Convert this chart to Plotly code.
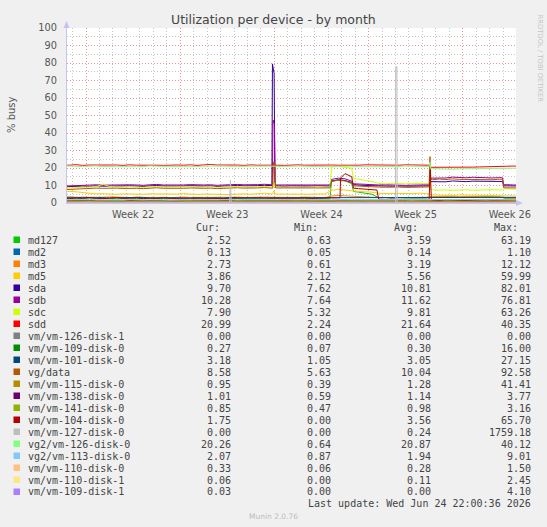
import pandas as pd
import plotly.graph_objects as go

# ─────────────────────────────  TIME BASE  ─────────────────────────────
# one sample every 12 h (06:00 / 18:00), 2026-05-23 06:00 .. 2026-06-26 06:00
N = 69
TIMES = pd.date_range("2026-05-23 06:00", periods=N, freq="12h")
X_RANGE = ["2026-05-23 14:00", "2026-06-25 23:00"]

# ─────────────────────────────  LEGEND TABLE  ──────────────────────────
NAMES = ["md127", "md2", "md3", "md5", "sda", "sdb", "sdc", "sdd",
         "vm/vm-126-disk-1", "vm/vm-109-disk-0", "vm/vm-101-disk-0", "vg/data",
         "vm/vm-115-disk-0", "vm/vm-138-disk-0", "vm/vm-141-disk-0", "vm/vm-104-disk-0",
         "vm/vm-127-disk-0", "vg2/vm-126-disk-0", "vg2/vm-113-disk-0", "vm/vm-110-disk-0",
         "vm/vm-110-disk-1", "vm/vm-109-disk-1"]
COLORS = ["#00CC00", "#0066B3", "#FF8000", "#FFCC00", "#330099", "#990099", "#CCFF00", "#FF0000",
          "#808080", "#008F00", "#00487D", "#B35A00", "#B38F00", "#6B006B", "#8FB300", "#B30000",
          "#BEBEBE", "#80FF80", "#80C9FF", "#FFC080", "#FFE680", "#AA80FF"]
CUR = [2.52, 0.13, 2.73, 3.86, 9.70, 10.28, 7.90, 20.99, 0.00, 0.27, 3.18, 8.58,
       0.95, 1.01, 0.85, 1.75, 0.00, 20.26, 2.07, 0.33, 0.06, 0.03]
MIN = [0.63, 0.05, 0.61, 2.12, 7.62, 7.64, 5.32, 2.24, 0.00, 0.07, 1.05, 5.63,
       0.39, 0.59, 0.47, 0.00, 0.00, 0.64, 0.87, 0.06, 0.00, 0.00]
AVG = [3.59, 0.14, 3.19, 5.56, 10.81, 11.62, 9.81, 21.64, 0.00, 0.30, 3.05, 10.04,
       1.28, 1.14, 0.98, 3.56, 0.24, 20.87, 1.94, 0.28, 0.11, 0.00]
MAX = [63.19, 1.10, 12.12, 59.99, 82.01, 76.81, 63.26, 40.35, 0.00, 16.00, 27.15, 92.58,
       41.41, 3.77, 3.16, 65.70, 1759.18, 40.12, 9.01, 1.50, 2.45, 4.10]

# ─────────────────────────────  SERIES (% busy)  ────────────────────────
md127 = [2.6, 2.4, 2.7, 2.5, 2.8, 2.6, 2.5, 2.7, 2.4, 2.6, 2.8, 2.5, 2.6, 2.7, 2.4, 2.6,
         2.5, 2.8, 2.6, 2.7, 2.5, 2.4, 2.6, 2.7, 2.5, 2.6, 2.8, 2.5, 2.7, 2.6, 2.9, 2.6,
         2.7, 2.5, 2.6, 2.8, 2.6, 2.5, 2.7, 2.6,
         12.2, 13.4, 12.8, 11.0,
         6.2, 5.6, 5.0,
         3.1, 2.9, 3.0, 3.2, 2.8, 3.0, 3.1, 2.9,
         3.6, 3.4, 3.7, 3.5, 3.3, 3.6, 3.4, 3.5, 3.7, 3.4, 3.5,
         2.5, 2.5, 2.5]
md2 = [0.15, 0.12, 0.14, 0.13, 0.16, 0.14, 0.12, 0.15, 0.13, 0.14, 0.16, 0.12, 0.14, 0.15, 0.13, 0.14,
       0.12, 0.15, 0.14, 0.13, 0.16, 0.14, 0.12, 0.15, 0.13, 0.14, 0.15, 0.12, 0.14, 0.13, 0.15, 0.14,
       0.13, 0.15, 0.14, 0.12, 0.14, 0.15, 0.13, 0.14,
       0.16, 0.15, 0.14, 0.13,
       0.14, 0.12, 0.15,
       0.13, 0.14, 0.15, 0.12, 0.14, 0.13, 0.15, 0.14,
       0.14, 0.13, 0.15, 0.14, 0.12, 0.14, 0.15, 0.13, 0.14, 0.15, 0.13,
       0.13, 0.13, 0.13]
md3 = [3.4, 3.6, 3.3, 3.2, 3.4, 3.1, 3.3, 3.5, 3.2, 3.3, 3.1, 3.4, 3.2, 3.3, 3.5, 3.2,
       3.1, 3.3, 3.4, 3.2, 3.3, 3.1, 3.2, 3.4, 3.3, 3.2, 3.4, 3.1, 3.3, 3.2, 3.4, 3.3,
       3.2, 3.3, 3.1, 3.2, 3.4, 3.3, 3.2, 3.1,
       4.0, 4.3, 4.1, 3.8,
       3.5, 3.4, 3.3,
       3.2, 3.1, 3.3, 3.2, 3.0, 3.2, 3.1, 3.3,
       3.6, 3.8, 3.7, 3.9, 3.6, 3.7, 3.8, 3.6, 3.7, 3.9, 3.7,
       2.8, 2.7, 2.7]
md5 = [6.2, 6.6, 6.4, 5.9, 5.4, 5.2, 5.3, 5.1, 5.0, 5.2, 5.1, 4.9, 5.0, 5.2, 5.1, 4.9,
       5.0, 5.1, 5.3, 5.0, 4.9, 5.1, 5.2, 5.0, 4.8, 5.0, 5.1, 5.2, 5.0, 5.3, 5.6, 5.2,
       5.1, 5.0, 5.2, 5.1, 4.9, 5.0, 5.2, 5.1,
       7.2, 7.8, 7.4, 6.9,
       6.6, 6.4, 6.2,
       5.5, 5.4, 5.6, 5.3, 5.5, 5.4, 5.6, 5.5,
       4.6, 4.4, 4.5, 4.3, 4.6, 4.5, 4.4, 4.6, 4.5, 4.3, 4.4,
       3.9, 3.9, 3.9]
sda = [9.2, 9.4, 9.6, 9.7, 9.5, 9.8, 9.6, 9.7, 9.9, 9.6, 9.8, 9.7, 9.5, 9.8, 10.0, 9.7,
       9.6, 9.8, 9.7, 9.9, 9.6, 9.7, 9.8, 9.5, 9.7, 9.9, 10.0, 9.8, 9.7, 9.9, 10.1, 9.8,
       9.7, 9.6, 9.8, 9.7, 9.5, 9.7, 9.8, 9.6,
       12.6, 13.2, 12.8, 11.8,
       10.2, 10.0, 9.9,
       9.7, 9.8, 9.6, 9.7, 9.5, 9.6, 9.7, 9.8,
       12.2, 12.5, 12.1, 12.6, 12.3, 12.2, 12.5, 12.4, 12.3, 12.1, 12.4,
       9.8, 9.7, 9.7]
sdb = [9.6, 9.8, 10.0, 10.3, 10.1, 10.4, 10.2, 10.3, 10.5, 10.2, 10.4, 10.3, 10.1, 10.4, 10.6, 10.3,
       10.2, 10.4, 10.3, 10.5, 10.2, 10.3, 10.4, 10.1, 10.3, 10.5, 10.6, 10.4, 10.3, 10.5, 10.7, 10.4,
       10.3, 10.2, 10.4, 10.3, 10.1, 10.3, 10.4, 10.2,
       13.5, 14.2, 13.8, 12.5,
       10.8, 10.6, 10.5,
       10.3, 10.4, 10.2, 10.3, 10.1, 10.2, 10.3, 10.4,
       14.2, 14.6, 14.3, 14.8, 14.5, 14.4, 14.7, 14.5, 14.6, 14.3, 14.5,
       10.5, 10.3, 10.3]
sdc = [8.4, 8.6, 8.9, 9.1, 9.0, 9.3, 10.8, 9.4, 9.2, 9.0, 9.3, 9.1, 8.9, 9.2, 9.4, 9.1,
       9.0, 9.3, 9.2, 9.4, 9.0, 9.1, 9.3, 8.9, 9.1, 9.3, 9.5, 9.2, 9.0, 9.3, 9.5, 9.2,
       9.1, 9.0, 9.2, 9.1, 8.9, 9.1, 9.3, 9.0,
       20.6, 21.0, 20.4, 19.8,
       13.6, 12.9, 12.3,
       11.2, 11.0, 11.3, 11.1, 10.9, 11.2, 11.0, 11.1,
       7.6, 7.3, 7.5, 7.2, 7.4, 7.6, 7.3, 7.5, 7.4, 7.6, 7.5,
       8.1, 7.9, 7.9]
sdd = [21.8, 21.6, 21.9, 21.5, 21.7, 21.8, 21.6, 21.9, 21.7, 21.5, 21.8, 21.6, 21.7, 21.9, 21.6, 21.5,
       21.8, 21.7, 21.6, 21.8, 21.5, 21.9, 22.0, 21.7, 21.8, 21.6, 21.7, 21.5, 21.8, 21.6, 21.7, 21.8,
       21.6, 21.5, 21.7, 21.8, 21.6, 21.7, 21.5, 21.6,
       21.7, 21.6, 21.5, 21.7,
       21.6, 21.8, 21.7,
       21.6, 21.5, 21.7, 21.6, 21.8, 21.7, 21.6, 21.5,
       20.4, 20.2, 20.3, 20.1, 20.3, 20.4, 20.5, 20.6, 20.8, 20.9, 21.0,
       21.0, 21.1, 21.0]
vm126_d1 = [0, 0, 0, 0, 0, 0, 0, 0, 0, 0, 0, 0, 0, 0, 0, 0, 0, 0, 0, 0, 0, 0, 0,
            0, 0, 0, 0, 0, 0, 0, 0, 0, 0, 0, 0, 0, 0, 0, 0, 0, 0, 0, 0, 0, 0, 0,
            0, 0, 0, 0, 0, 0, 0, 0, 0, 0, 0, 0, 0, 0, 0, 0, 0, 0, 0, 0, 0, 0, 0]
vm109_d0 = [0.3, 0.2, 0.3, 0.4, 0.3, 0.2, 0.3, 0.3, 0.4, 0.2, 0.3, 0.3, 0.2, 0.4, 0.3, 0.3, 0.2, 0.3, 0.4, 0.3, 0.2, 0.3, 0.3,
            0.4, 0.3, 0.2, 0.3, 0.3, 0.4, 0.2, 0.3, 0.3, 0.2, 0.3, 0.4, 0.3, 0.3, 0.2, 0.3, 0.4, 0.3, 0.2, 0.3, 0.3, 0.4, 0.3,
            0.2, 0.3, 0.3, 0.4, 0.3, 0.2, 0.3, 0.3, 0.2, 0.4, 0.3, 0.3, 0.2, 0.3, 0.4, 0.3, 0.2, 0.3, 0.3, 0.3, 0.3, 0.3, 0.3]
vm101_d0 = [3.1, 2.9, 3.0, 3.2, 2.9, 3.0, 3.1, 2.8, 3.0, 3.1, 2.9, 3.0, 3.2, 2.9, 3.0, 3.1,
            2.9, 3.0, 2.8, 3.1, 3.0, 2.9, 3.1, 3.0, 2.9, 3.2, 3.0, 2.9, 3.1, 3.0, 2.9, 3.0,
            3.0, 3.1, 2.9, 3.0, 3.1, 2.9, 3.0, 3.1,
            3.2, 3.3, 3.1, 3.0,
            3.0, 2.9, 3.1,
            3.0, 3.1, 2.9, 3.0, 3.2, 3.0, 2.9, 3.1,
            3.1, 3.0, 3.2, 3.1, 2.9, 3.0, 3.2, 3.1, 3.0, 3.1, 3.2,
            3.2, 3.1, 3.2]
vg_data = [7.6, 7.8, 8.2, 8.4, 8.3, 8.5, 8.4, 8.6, 8.5, 8.3, 8.5, 8.4, 8.2, 8.5, 8.7, 8.4,
           8.3, 8.5, 8.4, 8.6, 8.3, 8.4, 8.5, 8.2, 8.4, 8.6, 8.7, 8.5, 8.4, 8.6, 8.8, 8.5,
           8.6, 8.5, 8.7, 8.6, 8.4, 8.6, 8.7, 8.5,
           12.4, 13.0, 12.6, 11.5,
           9.6, 9.4, 9.3,
           9.1, 9.0, 9.2, 9.1, 8.9, 9.0, 9.1, 9.2,
           13.3, 13.7, 13.4, 13.8, 13.5, 13.4, 13.7, 13.6, 13.5, 13.3, 13.6,
           8.7, 8.6, 8.6]
vm115_d0 = [1.2, 1.3, 1.1, 1.2, 1.4, 1.2, 1.1, 1.3, 1.2, 1.2, 1.3, 1.1, 1.2, 1.4, 1.2, 1.3, 1.1, 1.2, 1.3, 1.2, 1.1, 1.2, 1.3,
            1.2, 1.4, 1.2, 1.1, 1.3, 1.2, 1.2, 1.3, 1.1, 1.2, 1.3, 1.2, 1.4, 1.2, 1.1, 1.3, 1.2, 1.2, 1.3, 1.1, 1.2, 1.3, 1.2,
            1.1, 1.3, 1.2, 1.2, 1.4, 1.2, 1.1, 1.3, 1.2, 1.3, 1.1, 1.2, 1.2, 1.3, 1.1, 1.2, 1.0, 0.9, 1.0, 1.0, 0.9, 1.0, 0.9]
vm138_d0 = [1.1, 1.2, 1.0, 1.1, 1.2, 1.1, 1.0, 1.2, 1.1, 1.1, 1.2, 1.0, 1.1, 1.2, 1.1, 1.0, 1.1, 1.2, 1.1, 1.0, 1.1, 1.2, 1.1,
            1.0, 1.1, 1.2, 1.1, 1.1, 1.0, 1.2, 1.1, 1.1, 1.2, 1.0, 1.1, 1.2, 1.1, 1.0, 1.1, 1.2, 1.1, 1.1, 1.0, 1.2, 1.1, 1.1,
            1.2, 1.1, 1.0, 1.1, 1.2, 1.1, 1.1, 1.0, 1.2, 1.1, 1.1, 1.2, 1.0, 1.1, 1.2, 1.1, 1.1, 1.0, 1.1, 1.2, 1.0, 1.0, 1.0]
vm141_d0 = [0.9, 1.0, 0.9, 1.0, 1.1, 0.9, 1.0, 0.9, 1.0, 1.0, 0.9, 1.1, 1.0, 0.9, 1.0, 0.9, 1.0, 1.1, 0.9, 1.0, 1.0, 0.9, 1.0,
            1.0, 0.9, 1.0, 1.1, 0.9, 1.0, 0.9, 1.0, 1.0, 0.9, 1.1, 1.0, 0.9, 1.0, 1.0, 0.9, 1.0, 1.1, 0.9, 1.0, 0.9, 1.0, 1.0,
            0.9, 1.0, 1.1, 0.9, 1.0, 0.9, 1.0, 1.0, 0.9, 1.0, 1.1, 0.9, 1.0, 0.9, 1.0, 0.9, 1.0, 1.0, 0.9, 1.0, 0.9, 0.8, 0.9]
vm104_d0 = [2.8, 2.5, 2.9, 2.6, 3.0, 2.7, 2.5, 2.8, 3.1, 2.6, 2.7, 2.9, 2.5, 2.8, 2.6, 3.0,
            2.7, 2.5, 2.9, 2.6, 2.8, 2.7, 3.0, 2.6, 2.5, 2.8, 2.9, 2.6, 2.7, 3.0, 2.8, 2.7,
            2.6, 2.8, 2.5, 2.7, 2.9, 2.6, 2.8, 2.7,
            2.9, 3.0, 16.8, 15.0,
            8.2, 7.8, 7.5,
            2.2, 2.0, 2.3, 2.1, 1.9, 2.2, 2.0, 2.1,
            1.8, 1.6, 1.9, 1.7, 1.8, 1.6, 1.7, 1.9, 1.8, 1.7, 1.8,
            1.8, 1.7, 1.8]
vm127_d0 = [0, 0, 0, 0, 0, 0, 0, 0, 0, 0, 0, 0, 0, 0, 0, 0, 0, 0, 0, 0, 0, 0, 0,
            0, 0, 0, 0, 0, 0, 0, 0, 0, 0, 0, 0, 0, 0, 0, 0, 0, 0, 0, 0, 0, 0, 0,
            0, 0, 0, 0, 0, 0, 0, 0, 0, 0, 0, 0, 0, 0, 0, 0, 0, 0, 0, 0, 0, 0, 0]
vg2_126_d0 = [21.2, 21.0, 21.1, 20.9, 21.0, 21.2, 20.8, 21.1, 21.0, 20.9, 21.1, 21.0, 20.8, 21.2, 21.0, 20.9,
              21.1, 21.0, 20.9, 21.0, 20.8, 21.1, 21.2, 21.0, 21.1, 20.9, 21.0, 20.8, 21.1, 20.9, 21.0, 21.1,
              20.9, 20.8, 21.0, 21.1, 20.9, 21.0, 20.8, 20.9,
              21.0, 20.9, 20.8, 21.0,
              20.9, 21.1, 21.0,
              20.9, 20.8, 21.0, 20.9, 21.1, 21.0, 20.9, 20.8,
              19.6, 19.4, 19.5, 19.3, 19.5, 19.6, 19.4, 19.5, 19.7, 19.6, 19.8,
              19.8, 19.9, 19.8]
vg2_113_d0 = [1.9, 2.0, 1.8, 1.9, 2.1, 1.9, 1.8, 2.0, 1.9, 1.8, 2.0, 2.1, 1.9, 1.8, 2.0, 1.9,
              1.8, 2.0, 1.9, 2.1, 1.9, 1.8, 2.0, 1.9, 2.0, 1.8, 1.9, 2.0, 1.9, 1.8, 2.0, 1.9,
              1.9, 2.0, 1.8, 1.9, 2.0, 1.9, 1.8, 2.0,
              2.1, 2.2, 2.0, 1.9,
              1.9, 2.0, 1.8,
              1.9, 2.0, 1.9, 1.8, 2.0, 1.9, 2.1, 1.9,
              2.0, 1.9, 2.1, 2.0, 1.9, 2.0, 2.1, 1.9, 2.0, 2.1, 2.0,
              2.1, 2.0, 2.1]
vm110_d0 = [0.3, 0.2, 0.3, 0.3, 0.4, 0.3, 0.2, 0.3, 0.3, 0.2, 0.3, 0.4, 0.3, 0.2, 0.3, 0.3, 0.3, 0.2, 0.3, 0.4, 0.3, 0.2, 0.3,
            0.3, 0.2, 0.3, 0.3, 0.4, 0.2, 0.3, 0.3, 0.2, 0.3, 0.3, 0.4, 0.3, 0.2, 0.3, 0.3, 0.2, 0.3, 0.4, 0.3, 0.2, 0.3, 0.3,
            0.3, 0.2, 0.3, 0.4, 0.3, 0.2, 0.3, 0.3, 0.2, 0.3, 0.3, 0.4, 0.3, 0.2, 0.3, 0.3, 0.2, 0.3, 0.3, 0.3, 0.3, 0.3, 0.3]
vm110_d1 = [0.1, 0.1, 0.2, 0.1, 0.1, 0.0, 0.1, 0.2, 0.1, 0.1, 0.1, 0.2, 0.1, 0.0, 0.1, 0.1, 0.2, 0.1, 0.1, 0.1, 0.0, 0.1, 0.2,
            0.1, 0.1, 0.1, 0.2, 0.1, 0.0, 0.1, 0.1, 0.2, 0.1, 0.1, 0.1, 0.0, 0.1, 0.2, 0.1, 0.1, 0.1, 0.2, 0.1, 0.1, 0.0, 0.1,
            0.1, 0.2, 0.1, 0.1, 0.0, 0.1, 0.1, 0.2, 0.1, 0.1, 0.1, 0.2, 0.1, 0.0, 0.1, 0.1, 0.1, 0.2, 0.1, 0.1, 0.1, 0.1, 0.1]
vm109_d1 = [0, 0, 0, 0, 0, 0, 0, 0, 0, 0, 0, 0, 0, 0, 0, 0, 0, 0, 0, 0, 0, 0, 0,
            0, 0, 0, 0, 0, 0, 0, 0, 0, 0, 0, 0, 0, 0, 0, 0, 0, 0, 0, 0, 0, 0, 0,
            0, 0, 0, 0, 0, 0, 0, 0, 0, 0, 0, 0, 0, 0, 0, 0, 0, 0, 0, 0, 0, 0, 0]

SERIES = [md127, md2, md3, md5, sda, sdb, sdc, sdd, vm126_d1, vm109_d0, vm101_d0, vg_data,
          vm115_d0, vm138_d0, vm141_d0, vm104_d0, vm127_d0, vg2_126_d0, vg2_113_d0,
          vm110_d0, vm110_d1, vm109_d1]

# short events between the 12 h samples (spikes and step edges)
EVENTS = {
    "md127": [("2026-06-12 03:00", 2.7), ("2026-06-13 21:00", 6.6)],
    "md5": [("2026-06-07 21:00", 5.3), ("2026-06-07 23:00", 7.0), ("2026-06-08 01:00", 5.1)],
    "sda": [("2026-06-07 19:30", 9.9), ("2026-06-07 20:30", 79.5), ("2026-06-07 23:30", 74.0),
            ("2026-06-08 01:00", 9.8), ("2026-06-12 03:00", 9.7), ("2026-06-13 21:00", 10.5),
            ("2026-06-19 13:00", 9.8), ("2026-06-19 15:00", 12.2),
            ("2026-06-24 23:00", 12.3), ("2026-06-25 01:00", 9.8)],
    "sdb": [("2026-06-07 20:30", 10.4), ("2026-06-07 21:30", 47.4), ("2026-06-08 00:00", 45.0),
            ("2026-06-08 01:30", 10.3), ("2026-06-12 03:00", 10.3), ("2026-06-13 21:00", 11.0),
            ("2026-06-19 13:00", 10.4), ("2026-06-19 15:00", 14.2),
            ("2026-06-24 23:00", 14.4), ("2026-06-25 01:00", 10.4)],
    "sdc": [("2026-06-07 21:00", 9.3), ("2026-06-07 23:00", 12.0), ("2026-06-08 01:00", 9.1),
            ("2026-06-12 03:00", 9.0), ("2026-06-13 21:00", 13.8),
            ("2026-06-19 12:00", 11.1), ("2026-06-19 13:30", 20.7), ("2026-06-19 15:00", 7.8),
            ("2026-06-24 23:00", 7.5), ("2026-06-25 01:00", 8.1)],
    "sdd": [("2026-06-19 13:00", 21.6), ("2026-06-19 15:00", 20.4)],
    "vg/data": [("2026-06-07 21:00", 8.5), ("2026-06-07 22:30", 23.5), ("2026-06-08 00:30", 22.5),
                ("2026-06-08 02:00", 8.6), ("2026-06-12 03:00", 8.6), ("2026-06-13 21:00", 9.8),
                ("2026-06-19 12:00", 9.2), ("2026-06-19 13:30", 26.5), ("2026-06-19 15:00", 13.6),
                ("2026-06-24 23:00", 13.5), ("2026-06-25 01:00", 8.7)],
    "vm/vm-104-disk-0": [("2026-06-12 21:00", 3.0), ("2026-06-12 22:00", 14.2), ("2026-06-13 21:00", 8.5),
                         ("2026-06-15 15:00", 7.4), ("2026-06-19 12:00", 2.1),
                         ("2026-06-19 14:00", 19.0), ("2026-06-19 16:00", 1.8)],
    "vm/vm-127-disk-0": [("2026-06-04 16:00", 0.0), ("2026-06-04 17:30", 13.0), ("2026-06-04 19:00", 0.0),
                         ("2026-06-17 00:00", 0.0), ("2026-06-17 00:30", 77.9),
                         ("2026-06-17 02:30", 77.9), ("2026-06-17 03:00", 0.0)],
    "vg2/vm-126-disk-0": [("2026-06-19 12:00", 20.8), ("2026-06-19 13:30", 23.5), ("2026-06-19 15:00", 19.6)],
}

# ─────────────────────────────  GEOMETRY  ──────────────────────────────
W, H = 547, 527
L, R, T, B = 67, 516, 28, 203          # plot box, pixels


def px(x):
    return (x - L) / (R - L)


def py(y):
    return (B - y) / (B - T)


def build(name, base):
    s = pd.Series(base, index=TIMES, dtype=float)
    if name in EVENTS:
        e = pd.Series({pd.Timestamp(t): v for t, v in EVENTS[name]})
        s = pd.concat([s[~s.index.isin(e.index)], e]).sort_index()
    return s


# ─────────────────────────────  PLOTTING  ──────────────────────────────
fig = go.Figure()
for name, col, vals in zip(NAMES, COLORS, SERIES):
    assert len(vals) == N, name
    s = build(name, vals)
    fig.add_trace(go.Scatter(x=s.index, y=s.values, mode="lines", name=name,
                             line=dict(color=col, width=1), hoverinfo="skip"))

MGRID = "rgba(235,110,110,0.75)"
GRID = "rgba(150,150,150,0.55)"
AXIS = "#C4C4F4"
TXT = "#555555"

fig.update_xaxes(
    type="date", range=X_RANGE, tick0="2026-05-25", dtick=7 * 86400000,
    ticklabelmode="period", tickformat="Week %V",
    showgrid=True, gridcolor=MGRID, griddash="1px,2px", gridwidth=1,
    minor=dict(tick0="2026-05-25", dtick=86400000, showgrid=True,
               gridcolor=GRID, griddash="1px,2px", gridwidth=1),
    showline=True, linecolor=AXIS, linewidth=1, zeroline=False,
    ticks="", tickfont=dict(size=9.8, color=TXT), ticklabelstandoff=2,
)
fig.update_yaxes(
    range=[0, 100], dtick=10, tick0=0,
    showgrid=True, gridcolor=MGRID, griddash="1px,2px", gridwidth=1,
    minor=dict(dtick=5, showgrid=True, gridcolor=GRID, griddash="1px,2px", gridwidth=1),
    showline=True, linecolor=AXIS, linewidth=1, zeroline=False,
    ticks="", tickfont=dict(size=9.8, color=TXT), ticklabelstandoff=7,
)

# axis arrows
fig.add_shape(type="path", xref="paper", yref="paper", line_width=0, fillcolor=AXIS,
              path=f"M {px(66.5)} {py(21)} L {px(63.5)} {py(28)} L {px(69.5)} {py(28)} Z")
fig.add_shape(type="path", xref="paper", yref="paper", line_width=0, fillcolor=AXIS,
              path=f"M {px(523)} {py(203)} L {px(516)} {py(200)} L {px(516)} {py(206)} Z")

ann = []
ann.append(dict(text="Utilization per device - by month", x=px(273.5), y=py(20),
                font=dict(family="DejaVu Sans", size=12.5, color="#444444")))
ann.append(dict(text="% busy", x=px(11), y=py(115), textangle=-90,
                font=dict(family="DejaVu Sans", size=10, color=TXT)))
ann.append(dict(text="RRDTOOL / TOBI OETIKER", x=px(539.5), y=py(58), textangle=90,
                font=dict(family="DejaVu Sans", size=6.8, color="#C4C4C4")))

MONO = dict(family="DejaVu Sans Mono", size=10, color="#444444")
for head, xr in zip(["Cur:", "Min:", "Avg:", "Max:"], [222, 320, 420, 520]):
    ann.append(dict(text=head, x=px(xr), y=py(227), xanchor="right", font=MONO))

ROW0, STEP = 240, 12
for i, name in enumerate(NAMES):
    yy = ROW0 + i * STEP
    fig.add_shape(type="rect", xref="paper", yref="paper", line_width=0, fillcolor=COLORS[i],
                  x0=px(13.5), x1=px(20), y0=py(yy - 3.5), y1=py(yy + 3))
    ann.append(dict(text=name, x=px(26), y=py(yy), xanchor="left", font=MONO))
    for col, xr in zip([CUR, MIN, AVG, MAX], [233, 333, 433, 533]):
        ann.append(dict(text=f"{col[i]:.2f}", x=px(xr), y=py(yy), xanchor="right", font=MONO))

ann.append(dict(text="Last update: Wed Jun 24 22:00:36 2026", x=px(533), y=py(503),
                xanchor="right", font=MONO))
ann.append(dict(text="Munin 2.0.76", x=px(273.5), y=py(516),
                font=dict(family="DejaVu Sans", size=7.5, color="#BBBBBB")))

for a in ann:
    a.setdefault("xanchor", "center")
    a.update(xref="paper", yref="paper", yanchor="middle", showarrow=False)

fig.update_layout(
    width=W, height=H, annotations=ann, showlegend=False,
    margin=dict(l=L, r=W - R, t=T, b=H - B, pad=0),
    paper_bgcolor="#F0F0F0", plot_bgcolor="#FFFFFF",
    font=dict(family="DejaVu Sans", color=TXT),
)

# drop the page's default 8px body margin so the figure sits at the top-left corner
fig.write_html("out.html",
               config={"displayModeBar": False, "staticPlot": True},
               post_script="document.body.style.margin='0';document.body.style.overflow='hidden';")
